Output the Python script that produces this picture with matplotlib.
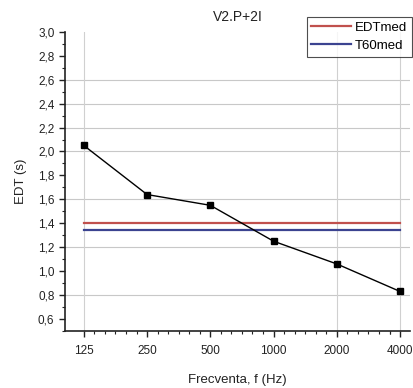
import matplotlib
matplotlib.use("Agg")
import matplotlib.pyplot as plt
from matplotlib.ticker import FixedLocator, NullFormatter, FuncFormatter

plt.rcParams['font.family'] = ['Liberation Sans', 'DejaVu Sans']

freqs = [125, 250, 500, 1000, 2000, 4000]
freq_labels = ['125', '250', '500', '1000', '2000', '4000']
edt = [2.05, 1.64, 1.55, 1.25, 1.06, 0.83]
edt_med = 1.40
t60_med = 1.34
ygrid = [2.6, 2.4, 2.2, 2.0, 1.6, 1.2, 0.8]
xgrid = [125, 2000, 4000]

fig = plt.figure(figsize=(4.13, 3.88), dpi=100)
ax = fig.add_axes([0.157, 0.147, 0.836, 0.771])
ax.set_xscale('log', base=2)

for y in ygrid:
    ax.axhline(y, color='#c8c8c8', lw=0.8, zorder=0)
for x in xgrid:
    ax.axvline(x, color='#d0d0d0', lw=0.8, zorder=0)

ax.plot([freqs[0], freqs[-1]], [edt_med, edt_med], color='#c0504d', lw=1.6, label='EDTmed', zorder=2)
ax.plot([freqs[0], freqs[-1]], [t60_med, t60_med], color='#3b4390', lw=1.6, label='T60med', zorder=2)
ax.plot(freqs, edt, color='black', lw=1.0, marker='s', markersize=5, zorder=3)

ax.set_xlim(101.5, 4465)
ax.set_ylim(0.5, 3.0)
ax.xaxis.set_major_locator(FixedLocator(freqs))
ax.set_xticklabels(freq_labels)
minor_x = []
for f in freqs[:-1]:
    for k in range(1, 6):
        minor_x.append(f * 2 ** (k / 6))
minor_x += [4000 * 2 ** (k / 6) for k in (-1,)]
ax.xaxis.set_minor_locator(FixedLocator(minor_x))
ax.xaxis.set_minor_formatter(NullFormatter())

yt = [0.6 + 0.2 * i for i in range(13)]
ax.yaxis.set_major_locator(FixedLocator(yt))
ax.yaxis.set_minor_locator(FixedLocator([0.5 + 0.2 * i for i in range(13)]))
ax.yaxis.set_major_formatter(FuncFormatter(lambda v, p: f"{v:.1f}".replace('.', ',')))

for s in ['top', 'right']:
    ax.spines[s].set_visible(False)
for s in ['left', 'bottom']:
    ax.spines[s].set_linewidth(1.2)
    ax.spines[s].set_color('#222222')

ax.tick_params(which='major', direction='out', length=4, width=1.0, labelsize=8.5, colors='#222222')
ax.tick_params(which='minor', direction='out', length=2, width=0.8, colors='#222222')
ax.tick_params(axis='x', which='major', pad=6)

ax.set_xlabel('Frecventa, f (Hz)', fontsize=9.5, labelpad=12, color='#222222')
ax.set_ylabel('EDT (s)', fontsize=9.5, labelpad=8, color='#222222')
ax.set_title('V2.P+2I', fontsize=10, pad=8, color='#222222')

leg = ax.legend(loc='upper right', bbox_to_anchor=(1.005, 1.05), fontsize=9.5, frameon=True,
                fancybox=False, handlelength=3.0, borderpad=0.35, labelspacing=0.45,
                handletextpad=0.3, borderaxespad=0)
leg.get_frame().set_edgecolor('#222222')
leg.get_frame().set_linewidth(0.8)

fig.savefig('out.png', dpi=100)
